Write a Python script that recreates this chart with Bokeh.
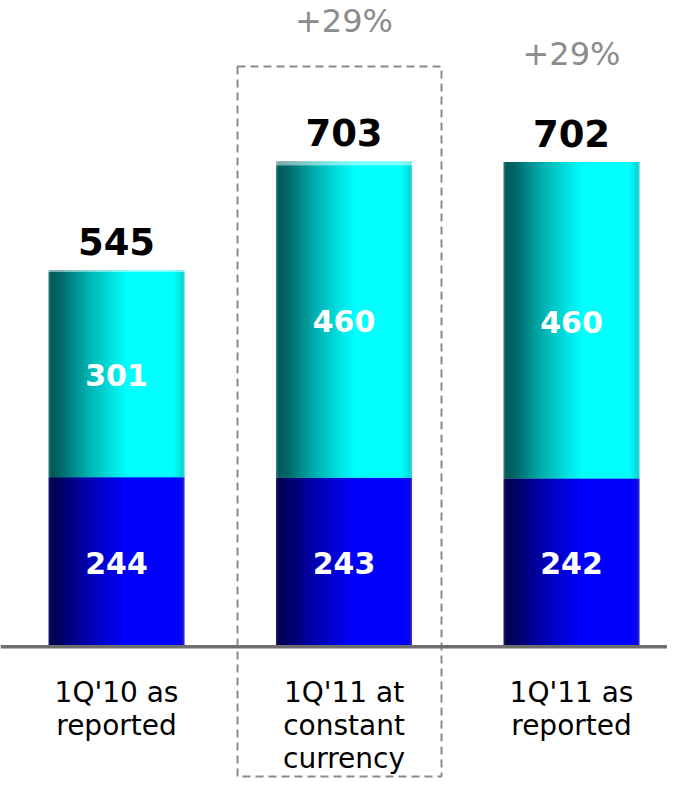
import numpy as np
from bokeh.plotting import figure
from bokeh.models import Span
from bokeh.core.properties import value
from bokeh.embed import file_html
from bokeh.resources import INLINE

# ---- data ----
categories = ["1Q'10 as\nreported", "1Q'11 at\nconstant\ncurrency", "1Q'11 as\nreported"]
bottom_vals = [244, 243, 242]
top_vals = [301, 460, 460]
totals = [545, 703, 702]
growth_labels = ["", "+29%", "+29%"]

# ---- layout / style ----
W, H = 667, 778
PXU_X = 227.5              # px per category unit
PXU_Y = 0.688              # px per value unit
BASE_Y = 644.5             # pixel row of value 0
X0 = 116                   # pixel column of first bar centre
BAR_W = 136 / PXU_X
N_SLICES = 136
highlight_px = [2, 4, 0]
growth_y_px = [None, 20.0, 53.5]       # pixel centres of growth labels
label_line_px = [692.0, 725.0, 758.0]  # pixel centres of category label lines
box_px = (237, 441, 66, 776)           # dashed box: left, right, top, bottom pixels
FONT = value("DejaVu Sans")

x_start = -X0 / PXU_X
x_end = (W - X0) / PXU_X
y_start = -(H - BASE_Y) / PXU_Y
y_end = BASE_Y / PXU_Y


def u(px):
    return px / PXU_Y


def vy(py):
    return (BASE_Y - py) / PXU_Y


def vx(px):
    return (px - X0) / PXU_X


cyan_stops = [(0.0, (0x3a, 0x80, 0x80)), (0.02, (0x00, 0x5a, 0x5a)), (0.08, (0x00, 0x66, 0x66)),
              (0.3, (0x00, 0xb4, 0xb4)), (0.58, (0x00, 0xff, 0xff)), (0.92, (0x00, 0xff, 0xff)),
              (0.985, (0x00, 0xd8, 0xd8)), (1.0, (0x50, 0xd0, 0xd0))]
blue_stops = [(0.0, (0x20, 0x20, 0x70)), (0.02, (0x00, 0x00, 0x50)), (0.08, (0x00, 0x00, 0x62)),
              (0.3, (0x00, 0x00, 0xb4)), (0.58, (0x00, 0x00, 0xff)), (0.92, (0x00, 0x00, 0xff)),
              (0.985, (0x08, 0x08, 0xe8)), (1.0, (0x40, 0x40, 0xd0))]


def grad(stops, t, lighten=0.0):
    for (t0, c0), (t1, c1) in zip(stops[:-1], stops[1:]):
        if t0 <= t <= t1:
            f = 0 if t1 == t0 else (t - t0) / (t1 - t0)
            c = [c0[k] + (c1[k] - c0[k]) * f for k in range(3)]
            break
    else:
        c = list(stops[-1][1])
    c = [int(round(v + (255 - v) * lighten)) for v in c]
    return "#%02x%02x%02x" % tuple(c)


p = figure(width=W, height=H, x_range=(x_start, x_end), y_range=(y_start, y_end),
           output_backend="svg", toolbar_location=None, min_border=0,
           background_fill_color="white", border_fill_color="white")
p.outline_line_color = None
p.xaxis.visible = False
p.yaxis.visible = False
p.xgrid.visible = False
p.ygrid.visible = False

# ---- gradient bars built from thin slices ----
L, R, B, T, C = [], [], [], [], []
overlap = 0.7 / PXU_X
for i, (bv, tv) in enumerate(zip(bottom_vals, top_vals)):
    left = i - BAR_W / 2
    edges = np.linspace(left, left + BAR_W, N_SLICES + 1)
    for k in range(N_SLICES):
        t = (k + 0.5) / N_SLICES
        r = edges[k + 1] + (overlap if k < N_SLICES - 1 else 0)
        L.append(edges[k]); R.append(r); B.append(0); T.append(bv)
        C.append(grad(blue_stops, t))
        hl = u(highlight_px[i])
        L.append(edges[k]); R.append(r); B.append(bv); T.append(bv + tv - hl)
        C.append(grad(cyan_stops, t))
        if highlight_px[i] > 0:
            L.append(edges[k]); R.append(r); B.append(bv + tv - hl); T.append(bv + tv)
            C.append(grad(cyan_stops, t, 0.5))
p.quad(left=L, right=R, bottom=B, top=T, fill_color=C, line_color=None)

xs = list(range(len(categories)))

# segment labels
p.text(x=xs, y=[b / 2 - u(1.5) for b in bottom_vals], text=[str(v) for v in bottom_vals],
       text_font=FONT, text_font_style="bold", text_font_size="30px", text_color="white",
       text_align="center", text_baseline="middle")
p.text(x=xs, y=[b + t / 2 - u(1.5) for b, t in zip(bottom_vals, top_vals)],
       text=[str(v) for v in top_vals],
       text_font=FONT, text_font_style="bold", text_font_size="30px", text_color="white",
       text_align="center", text_baseline="middle")

# totals
p.text(x=xs, y=[t + u(28.5) for t in totals], text=[str(v) for v in totals],
       text_font=FONT, text_font_style="bold", text_font_size="37px", text_color="black",
       text_align="center", text_baseline="middle")

# growth labels
gx = [x for x, g in zip(xs, growth_labels) if g]
gy = [vy(y) for y, g in zip(growth_y_px, growth_labels) if g]
gt = [g for g in growth_labels if g]
p.text(x=gx, y=gy, text=gt, text_font=FONT, text_font_size="32px", text_color="#8c8c8c",
       text_align="center", text_baseline="middle")

# category labels, line by line
lx, ly, lt = [], [], []
for i, cat in enumerate(categories):
    for j, line in enumerate(cat.split("\n")):
        lx.append(i); ly.append(vy(label_line_px[j])); lt.append(line)
p.text(x=lx, y=ly, text=lt, text_font=FONT, text_font_size="28px", text_color="black",
       text_align="center", text_baseline="middle")

# dashed box around the constant-currency bar
p.quad(left=[vx(box_px[0])], right=[vx(box_px[1])], bottom=[vy(box_px[3])], top=[vy(box_px[2])],
       fill_color=None, line_color="#8a8a8a", line_dash="8 5", line_width=2)

# baseline
p.add_layout(Span(location=-u(1.8), dimension="width", line_color="#6e6e6e", line_width=3.5))

open("out.html", "w").write(file_html(p, INLINE))
